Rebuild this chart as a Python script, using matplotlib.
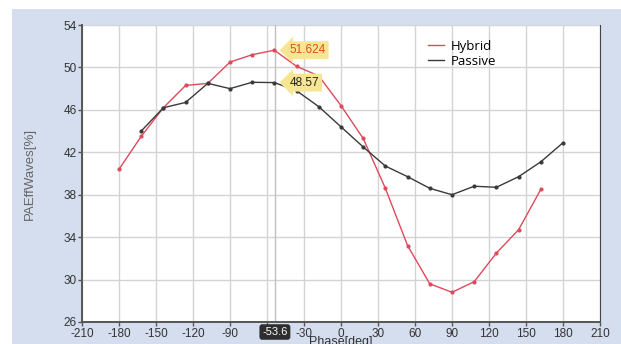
import numpy as np
import matplotlib
matplotlib.use('Agg')
import matplotlib.pyplot as plt
from matplotlib.patches import Rectangle

# phase sweep [deg]
hybrid_phase = [-180, -162, -144, -126, -108, -90, -72, -54, -36, -18,
                0, 18, 36, 54, 72, 90, 108, 126, 144, 162]
hybrid_pae = [40.4, 43.5, 46.2, 48.3, 48.5, 50.5, 51.2, 51.624, 50.1, 49.2,
              46.4, 43.3, 38.6, 33.2, 29.6, 28.8, 29.8, 32.5, 34.7, 38.5]

passive_phase = [-162, -144, -126, -108, -90, -72, -54, -36, -18, 0,
                 18, 36, 54, 72, 90, 108, 126, 144, 162, 180]
passive_pae = [44.0, 46.2, 46.7, 48.5, 48.0, 48.6, 48.57, 47.8, 46.3, 44.4,
               42.5, 40.7, 39.7, 38.6, 38.0, 38.8, 38.7, 39.7, 41.1, 42.9]

x_ticks = list(range(-210, 211, 30))
y_ticks = list(range(26, 55, 4))
cursor_x = -53.6

plt.rcParams['font.family'] = ['Liberation Sans', 'DejaVu Sans']

fig = plt.figure(figsize=(6.21, 3.44), dpi=100)
fig.patch.set_facecolor('white')
# light blue panel behind the chart
fig.patches.append(Rectangle((12 / 621, 0), 1, 1 - 9 / 344, transform=fig.transFigure,
                             facecolor='#d5deef', edgecolor='none', zorder=-10))

ax = fig.add_axes([82 / 621, 22 / 344, 518 / 621, 297 / 344])
ax.set_zorder(1)
ax.set_facecolor('white')

ax.plot(hybrid_phase, hybrid_pae, color='#de4a5c', lw=1.0, marker='o', ms=2, label='Hybrid')
ax.plot(passive_phase, passive_pae, color='#3a3a3a', lw=1.0, marker='o', ms=2, label='Passive')

ax.set_xlim(-210, 210)
ax.set_ylim(26, 54)
ax.set_xticks(x_ticks)
# the cursor flag hides the -60 label
ax.set_xticklabels(['' if t == -60 else str(t) for t in x_ticks])
ax.set_yticks(y_ticks)
ax.grid(True, color='#d4d4d4', lw=1)
ax.set_axisbelow(True)
ax.axvline(cursor_x, color='#c0c0c0', lw=1, zorder=1)

for s in ['left', 'bottom']:
    ax.spines[s].set_color('#555555')
    ax.spines[s].set_linewidth(1.4)
ax.spines['right'].set_color('#444444')
ax.spines['top'].set_visible(False)
ax.tick_params(colors='#555555', labelcolor='#333333', labelsize=8.5, length=3, width=1, pad=1)

ax.set_ylabel('PAEffWaves[%]', color='#666666', fontsize=9.5, labelpad=20)
fig.text(341 / 621, 1 - 336 / 344, 'Phase[deg]', ha='center', va='top', fontsize=9, color='#333333')

# value flags at the cursor
ax.annotate(f'{hybrid_pae[7]:g}', xy=(-54, hybrid_pae[7]), xytext=(15, 0), textcoords='offset pixels',
            ha='left', va='center', fontsize=8.5, color='#e0501a',
            bbox=dict(boxstyle='larrow,pad=0.25', fc='#f6e592', ec='none'), zorder=6)
ax.annotate(f'{passive_pae[6]:g}', xy=(-54, passive_pae[6]), xytext=(15, 0), textcoords='offset pixels',
            ha='left', va='center', fontsize=8.5, color='#222222',
            bbox=dict(boxstyle='larrow,pad=0.25', fc='#f6e592', ec='none'), zorder=6)
ax.annotate(f'{cursor_x:g}', xy=(cursor_x, 26), xytext=(0, -10), textcoords='offset pixels',
            ha='center', va='center', fontsize=8, color='white', annotation_clip=False,
            bbox=dict(boxstyle='round,pad=0.25', fc='#2e2e2e', ec='none'), zorder=10)

leg = ax.legend(loc='upper left', bbox_to_anchor=(0.645, 0.99), frameon=False,
                handlelength=1.2, handletextpad=0.5, labelspacing=0.15,
                prop={'family': ['Open Sans', 'DejaVu Sans'], 'size': 9.5})
for h in leg.legend_handles:
    h.set_marker('')

fig.savefig('out.png', dpi=100)
